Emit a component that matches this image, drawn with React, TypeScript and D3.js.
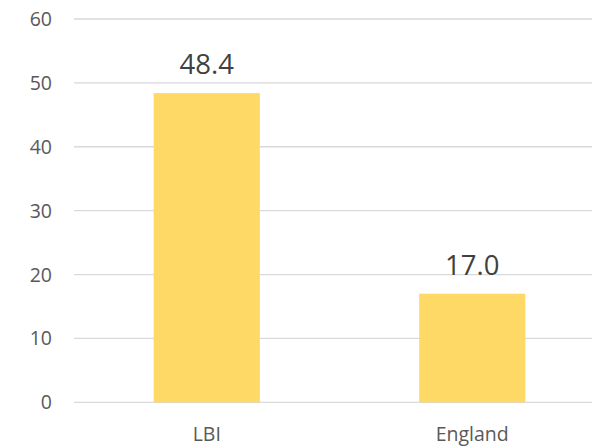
import React from "react";
import * as d3 from "d3";

const categories = ["LBI", "England"];
const values = [48.4, 17.0];
const yTicks = [0, 10, 20, 30, 40, 50, 60];

export default function App() {
  const W = 592, H = 447;
  const x = d3.scaleBand<string>().domain(categories).range([74, 605]).padding(0);
  const y = d3.scaleLinear().domain([0, 60]).range([402.3, 19]);
  const bw = x.bandwidth() * 0.4;
  const font = "'Open Sans', sans-serif";
  return (
    <svg width={W} height={H} style={{ position: "absolute", left: 0, top: 0, background: "#fff" }}>
      {yTicks.map((t) => (
        <g key={t}>
          <line x1={74} x2={592} y1={y(t)} y2={y(t)} stroke="#d9d9d9" strokeWidth={1.3} />
          <text x={52} y={y(t) + 7} textAnchor="end" fontFamily={font} fontSize={19.5} fill="#595959">{t}</text>
        </g>
      ))}
      {categories.map((c, i) => {
        const cx = (x(c) as number) + x.bandwidth() / 2;
        return (
          <g key={c}>
            <rect x={cx - bw / 2} y={y(values[i])} width={bw} height={y(0) - y(values[i])} fill="#FFD966" />
            <text x={cx} y={y(values[i]) - 19} textAnchor="middle" fontFamily={font} fontSize={27.5} fill="#404040">{values[i].toFixed(1)}</text>
            <text x={cx} y={441} textAnchor="middle" fontFamily={font} fontSize={19.5} fill="#595959">{c}</text>
          </g>
        );
      })}
    </svg>
  );
}
